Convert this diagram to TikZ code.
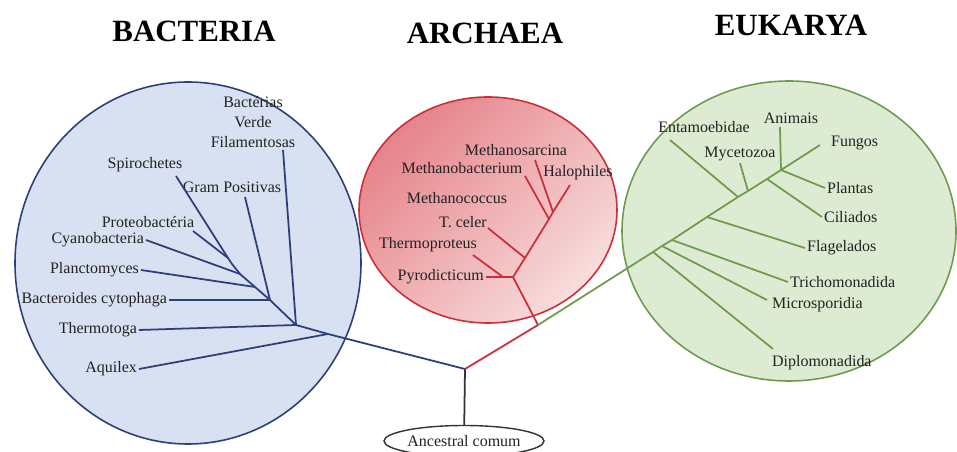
\documentclass[tikz,border=0pt]{standalone}
\usepackage{fontspec}
\setmainfont{Liberation Serif}
\usetikzlibrary{shapes.geometric}

\definecolor{bactfill}{HTML}{D8E1F1}
\definecolor{bactline}{HTML}{2C3F78}
\definecolor{archfillA}{HTML}{E6838A}
\definecolor{archfillB}{HTML}{F8DDDD}
\definecolor{archline}{HTML}{C9303A}
\definecolor{eukfill}{HTML}{DDEBD3}
\definecolor{eukline}{HTML}{6E9B4C}
\definecolor{labeltext}{HTML}{222222}

\tikzset{
  kingdom/.style={font=\fontsize{17.6}{20}\selectfont\bfseries, text=black},
  taxon/.style={font=\fontsize{9.1}{11.4}\selectfont, text=labeltext, inner sep=1pt},
  branch/.style={line width=1pt},
}

\begin{document}
\begin{tikzpicture}[x=0.02cm,y=-0.02cm]

      \clip (0,0) rectangle (957,452);
      \fill[white] (0,0) rectangle (957,452);

      \filldraw[fill=bactfill, draw=bactline, line width=0.9pt] (188,263) ellipse [x radius=173, y radius=181];
      \path[draw=archline, line width=0.9pt, top color=archfillA, bottom color=archfillB, shading angle=45] (488,210) ellipse [x radius=129, y radius=113];
      \filldraw[fill=eukfill, draw=eukline, line width=0.9pt] (789,231) ellipse [x radius=167, y radius=150];

      \node[kingdom] (bacteria) at (194,31) {BACTERIA};
      \node[kingdom] (archaea)  at (485,33) {ARCHAEA};
      \node[kingdom] (eukarya)  at (791,25) {EUKARYA};

      \begin{scope}[every node/.style={taxon}]
        \node[anchor=east] (aquilex)     at (139,369) {Aquilex};
        \node[anchor=east] (thermotoga)  at (139,330) {Thermotoga};
        \node[anchor=east] (bacteroides) at (169,300) {Bacteroides cytophaga};
        \node[anchor=east] (plancto)     at (141,270) {Planctomyces};
        \node[anchor=east] (cyano)       at (146,240) {Cyanobacteria};
        \node (proteo)  at (148,222) {Proteobactéria};
        \node (spiro)   at (145,165) {Spirochetes};
        \node (grampos) at (232,187) {Gram Positivas};
        \node[align=center] (verde) at (253,122) {Bactérias\\Verde\\Filamentosas};

        \node[anchor=east] (pyro) at (486,277) {Pyrodicticum};
        \node (thermoproteus) at (428,245) {Thermoproteus};
        \node (tceler)        at (463,222) {T. celer};
        \node (methanococcus) at (457,198) {Methanococcus};
        \node (methanobact)   at (462,168) {Methanobacterium};
        \node (methanosarc)   at (516,150) {Methanosarcina};
        \node (halo)          at (578,173) {Halophiles};

        \node (entamoeb) at (704,127) {Entamoebidae};
        \node (animais)  at (791,118) {Animais};
        \node (myceto)   at (740,154) {Mycetozoa};
        \node[anchor=west] (fungos)  at (829,143) {Fungos};
        \node[anchor=west] (plantas) at (825,188) {Plantas};
        \node[anchor=west] (ciliados) at (822,217) {Ciliados};
        \node[anchor=west] (flagel)  at (805,248) {Flagelados};
        \node[anchor=west] (tricho)  at (788,282) {Trichomonadida};
        \node[anchor=west] (micro)   at (770,305) {Microsporidia};
        \node[anchor=west] (diplo)   at (770,363) {Diplomonadida};

        \node[ellipse, draw=black!80, line width=0.8pt, minimum width=2.9cm, minimum height=0.62cm, inner sep=0pt] (ancestral) at (464,441) {Ancestral comum};
      \end{scope}

      \coordinate (root) at (465,369);

      \coordinate (b1) at (328,334);
      \coordinate (b2) at (296,325);
      \coordinate (b3) at (270,300);
      \coordinate (b4) at (255,287);
      \coordinate (b5) at (240,274);
      \coordinate (b6) at (232,264);
      \coordinate (b7) at (228,258);
      \coordinate (spiroend)   at (176,176);
      \coordinate (gramend)    at (245,197);
      \coordinate (verdeend)   at (283,150);
      \coordinate (proteoend)  at (193,231);

      \coordinate (a0) at (538,325);
      \coordinate (a1) at (513,277);
      \coordinate (ap) at (503,277);
      \coordinate (a2) at (525,258);
      \coordinate (a3) at (549,219);
      \coordinate (a4) at (553,212);
      \coordinate (thermoend) at (473,255);
      \coordinate (celerend)  at (488,228);
      \coordinate (mbactend)  at (525,176);
      \coordinate (msarcend)  at (535,160);
      \coordinate (haloend)   at (570,185);

      \coordinate (e1) at (653,252);
      \coordinate (e2) at (662,246);
      \coordinate (e3) at (672,240);
      \coordinate (e4) at (707,217);
      \coordinate (e5) at (738,197);
      \coordinate (e6) at (748,191);
      \coordinate (e7) at (767,179);
      \coordinate (e8) at (781,170);
      \coordinate (fungosend) at (820,145);
      \coordinate (entend)    at (670,140);
      \coordinate (mycend)    at (740,163);
      \coordinate (animend)   at (780,127);
      \coordinate (microend)  at (767,300);
      \coordinate (diploend)  at (773,349);

      \draw[black!80, branch] (ancestral) -- (root);

      \begin{scope}[every edge/.style={draw=bactline, branch}]
        \draw[bactline, branch] (root) -- (b1) -- (b2) -- (b3) -- (b4) -- (b5) -- (b6) -- (b7) -- (spiroend);
        \path (aquilex.east)     edge (b1);
        \path (thermotoga.east)  edge (b2);
        \path (verdeend)         edge (b2);
        \path (bacteroides.east) edge (b3);
        \path (gramend)          edge (b3);
        \path (plancto.east)     edge (b4);
        \path (cyano.east)       edge (b5);
        \path (proteoend)        edge (b7);
      \end{scope}

      \begin{scope}[every edge/.style={draw=archline, branch}]
        \draw[archline, branch] (root) -- (a0) -- (a1) -- (a2) -- (a3) -- (a4) -- (haloend);
        \path (pyro.east) edge (a1);
        \path (thermoend) edge (ap);
        \path (celerend)  edge (a2);
        \path (mbactend)  edge (a3);
        \path (msarcend)  edge (a4);
      \end{scope}

      \begin{scope}[every edge/.style={draw=eukline, branch}]
        \draw[eukline, branch] (a0) -- (e1) -- (e2) -- (e3) -- (e4) -- (e5) -- (e6) -- (e7) -- (e8) -- (fungosend);
        \path (e1) edge (diploend);
        \path (e2) edge (microend);
        \path (e3) edge (tricho.west);
        \path (e4) edge (flagel.west);
        \path (entend) edge (e5);
        \path (mycend) edge (e6);
        \path (e7) edge (ciliados.west);
        \path (animend) edge (e8);
        \path (e8) edge (plantas.west);
      \end{scope}

    \end{tikzpicture}
\end{document}
